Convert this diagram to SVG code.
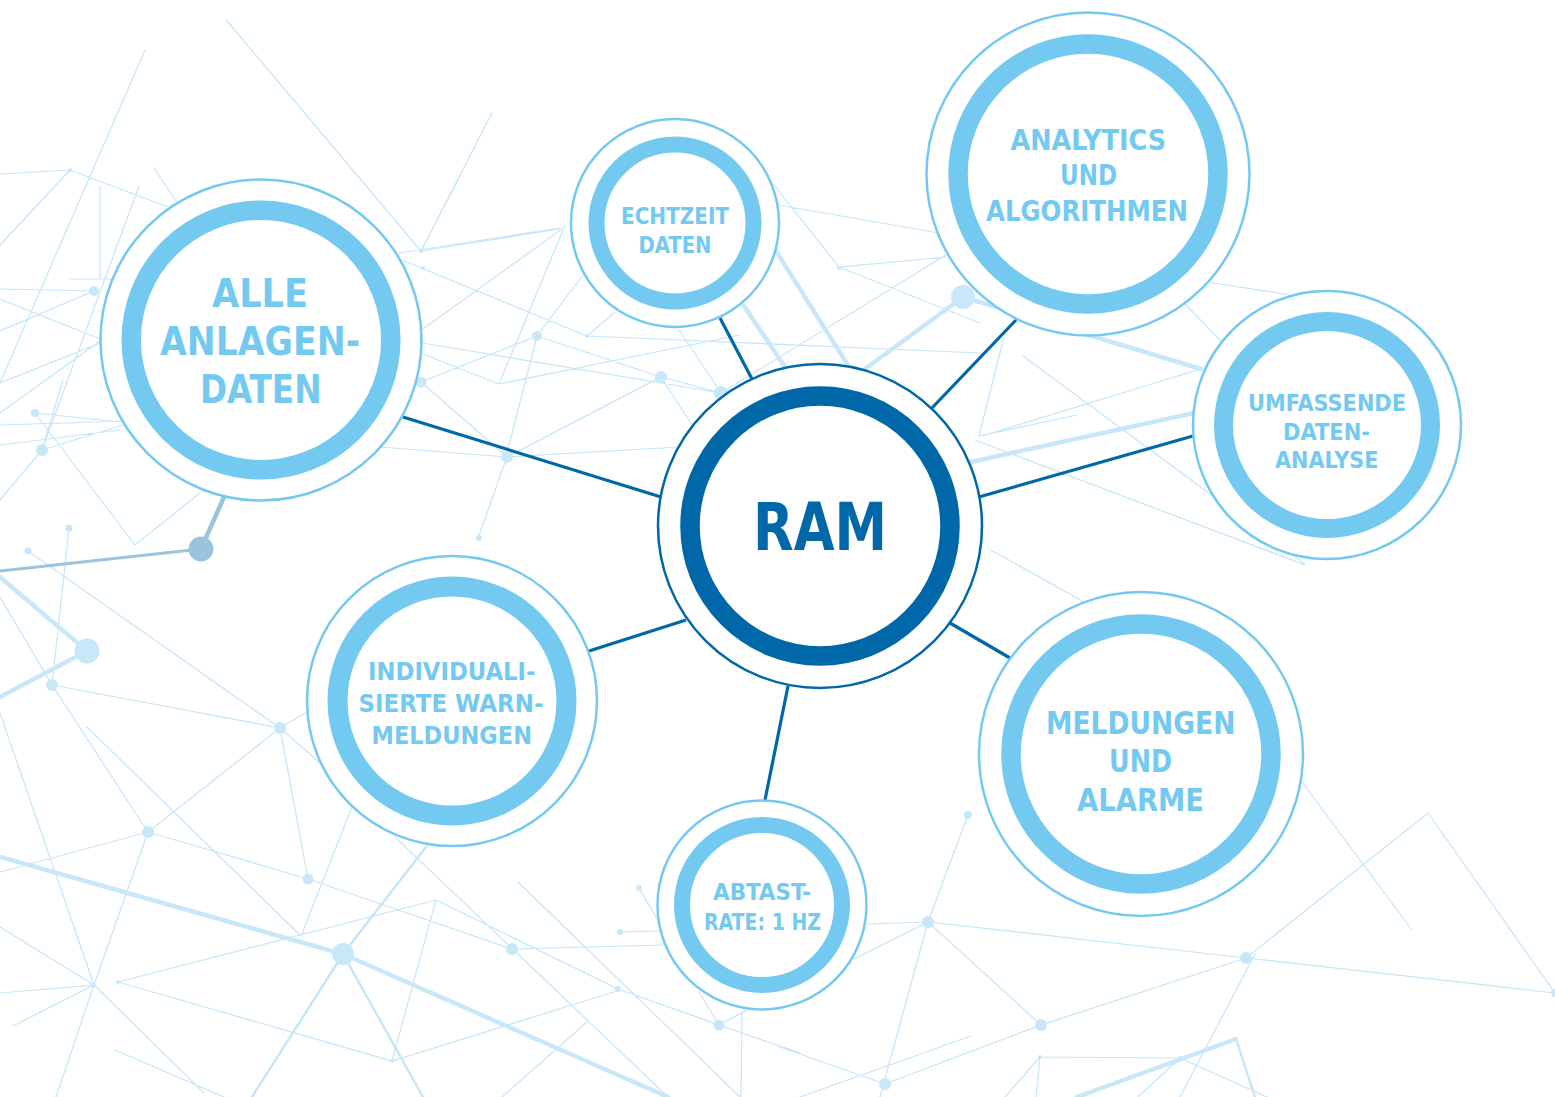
<svg xmlns="http://www.w3.org/2000/svg" width="1555" height="1097" viewBox="0 0 1555 1097">
<style>
.t{stroke:#c4e6f8;stroke-width:1.2;fill:none;stroke-linecap:round}
.m{stroke:#c4e6f8;stroke-width:2.4;fill:none;stroke-linecap:round}
.k{stroke:#c8e8f9;stroke-width:4.5;fill:none;stroke-linecap:round}
.d{fill:#c8e8f9}
.outer{fill:#fff;stroke:#74c9f1;stroke-width:2.5}
.ring{fill:#fff;stroke:#74c9f1}
.conn{stroke:#0067a9;stroke-width:3.2;fill:none}
.lbl{font-family:"DejaVu Sans Condensed","DejaVu Sans","Liberation Sans",sans-serif;font-weight:bold;fill:#74c9f1}
</style>
<rect width="1555" height="1097" fill="#fff"/>
<g id="background">
<path class="t" d="M227,21L421,251M492,113L421,251L559,229M145,50L0,383M0,174L70,170L168,207M70,170L0,245M154,168L176,201M139,186L42,450M100,186L100,279M69,279L111,279M0,289L94,291L0,331M0,299L100,339M0,383L100,343M0,413L100,341M0,425L126,421M402,260L587,336M423,329L566,226M422,343L721,393M423,354L499,384L740,335M563,230L499,384M537,336L421,382M537,336L661,377M537,336L583,275M537,336L506,457M421,382L507,457L478,538M380,447L507,457L679,447M507,457L661,377L721,393M661,377L694,428M721,393L946,255M721,393L679,330M587,336L980,353M587,336L615,312M399,253L560,228M421,251L458,180M770,180L839,267L946,257M839,267L980,323M778,205L939,233M1004,337L979,436M1023,356L1305,564M1185,304L1220,340M1207,282L1290,295M979,436L1077,415M982,436L1207,367M975,440L1305,565M991,550L1084,602M35,413L120,422M35,413L135,545L200,493M42,450L0,500M42,450L63,380M0,445L120,430M42,450L123,425M69,528L52,685M28,551L280,728M52,685L280,728M52,685L148,832M0,597L52,685M280,728L307,712M280,728L148,832M280,728L308,879M280,728L320,763M87,727L301,936M0,713L94,985M0,872L148,832L308,879L512,949M148,832L94,985L56,1097M0,927L94,985L0,993M94,985L13,1026M94,985L204,1093M301,936L352,807M118,982L436,900L392,1061M436,900L620,990M118,982L392,1061L620,990M115,1050L224,1097M395,837L668,1097M512,949L663,945M620,932L660,931M639,888L658,920M518,882L740,1097M618,989L719,1025L800,1053M719,1025L699,992M719,1025L747,1010M742,1013L741,1097M587,1022L502,1097M866,924L928,922L854,959M928,922L968,815M928,922L1246,958L1555,993M928,922L1041,1025L1246,958M1041,1025L885,1084M928,922L880,1097M780,1047L885,1084M800,1097L971,1036M1246,958L1428,813L1555,993M1302,782L1412,930M1255,954L1180,1097M1040,1057L1180,1058M1040,1057L1005,1097M1040,1057L1036,1097M1180,1058L1267,1097M1180,1058L1138,1097"/>
<path class="m" d="M343,954L423,1097M343,954L252,1097M343,954L426,847M1236,1039L1255,1097"/>
<path class="k" d="M776,251L849,367M744,306L785,367M963,297L865,369M963,297L1201,369M966,463L1194,413M0,577L87,651L0,697M0,857L343,954L668,1097M1236,1039L1077,1097"/>
<g>
<circle class="d" cx="94" cy="291" r="5"/><circle class="d" cx="35" cy="413" r="4"/><circle class="d" cx="42" cy="450" r="6"/><circle class="d" cx="69" cy="528" r="3.5"/><circle class="d" cx="28" cy="551" r="3.5"/><circle class="d" cx="87" cy="651" r="12.5"/><circle class="d" cx="52" cy="685" r="6"/><circle class="d" cx="280" cy="728" r="6"/><circle class="d" cx="148" cy="832" r="6"/><circle class="d" cx="308" cy="879" r="5.5"/><circle class="d" cx="343" cy="954" r="11"/><circle class="d" cx="512" cy="949" r="6"/><circle class="d" cx="620" cy="932" r="3"/><circle class="d" cx="639" cy="888" r="3"/><circle class="d" cx="618" cy="989" r="3"/><circle class="d" cx="719" cy="1025" r="5.5"/><circle class="d" cx="928" cy="922" r="6"/><circle class="d" cx="968" cy="815" r="4"/><circle class="d" cx="1246" cy="958" r="6"/><circle class="d" cx="1041" cy="1025" r="6"/><circle class="d" cx="885" cy="1084" r="6"/><circle class="d" cx="537" cy="336" r="5"/><circle class="d" cx="421" cy="382" r="5.5"/><circle class="d" cx="507" cy="457" r="6"/><circle class="d" cx="661" cy="377" r="6"/><circle class="d" cx="721" cy="393" r="7"/><circle class="d" cx="479" cy="538" r="3"/><circle class="d" cx="963" cy="297" r="12"/><circle class="d" cx="839" cy="268" r="2"/><circle class="d" cx="587" cy="336" r="2"/><circle class="d" cx="421" cy="251" r="2"/><circle class="d" cx="70" cy="170" r="2"/><circle class="d" cx="423" cy="268" r="2"/><circle class="d" cx="94" cy="985" r="2"/><circle class="d" cx="118" cy="982" r="2"/><circle class="d" cx="392" cy="1061" r="2"/><circle class="d" cx="1040" cy="1057" r="2"/><circle class="d" cx="1180" cy="1058" r="2"/><circle class="d" cx="1555" cy="993" r="4"/>
</g>
<path d="M0,571L201,549" stroke="#9cc3dc" stroke-width="3" fill="none"/>
<path d="M201,549L224,497" stroke="#9cc3dc" stroke-width="4.5" fill="none"/>
<circle cx="201" cy="549" r="12.5" fill="#9cc3dc"/>
</g>
<g id="connectors">
<line class="conn" x1="403" y1="417" x2="661" y2="497"/>
<line class="conn" x1="720" y1="318" x2="752" y2="379"/>
<line class="conn" x1="1016" y1="320" x2="931" y2="409"/>
<line class="conn" x1="1193" y1="436" x2="979" y2="497"/>
<line class="conn" x1="589" y1="651" x2="686" y2="620"/>
<line class="conn" x1="765" y1="800" x2="788" y2="686"/>
<line class="conn" x1="950" y1="623" x2="1010" y2="658"/>
</g>
<g id="node-alle">
<circle class="outer" cx="261" cy="340" r="160.5"/>
<circle class="ring" cx="261" cy="340" r="129.8" stroke-width="19.5"/>
<text class="lbl" font-size="39" x="212" y="307" textLength="96" lengthAdjust="spacingAndGlyphs">ALLE</text>
<text class="lbl" font-size="39" x="160" y="355" textLength="200" lengthAdjust="spacingAndGlyphs">ANLAGEN-</text>
<text class="lbl" font-size="39" x="200" y="402.5" textLength="121.5" lengthAdjust="spacingAndGlyphs">DATEN</text>
</g>
<g id="node-echtzeit">
<circle class="outer" cx="675" cy="223" r="104"/>
<circle class="ring" cx="675" cy="223" r="78.5" stroke-width="16"/>
<text class="lbl" font-size="23.5" x="621" y="224" textLength="108" lengthAdjust="spacingAndGlyphs">ECHTZEIT</text>
<text class="lbl" font-size="23.5" x="638.5" y="252.5" textLength="73" lengthAdjust="spacingAndGlyphs">DATEN</text>
</g>
<g id="node-analytics">
<circle class="outer" cx="1088" cy="174" r="161.5"/>
<circle class="ring" cx="1088" cy="174" r="130" stroke-width="19.5"/>
<text class="lbl" font-size="29" x="1010.5" y="150" textLength="155.5" lengthAdjust="spacingAndGlyphs">ANALYTICS</text>
<text class="lbl" font-size="29" x="1060" y="185" textLength="57" lengthAdjust="spacingAndGlyphs">UND</text>
<text class="lbl" font-size="29" x="986" y="221" textLength="202" lengthAdjust="spacingAndGlyphs">ALGORITHMEN</text>
</g>
<g id="node-umfassende">
<circle class="outer" cx="1327" cy="425" r="134"/>
<circle class="ring" cx="1327" cy="425" r="103.5" stroke-width="19"/>
<text class="lbl" font-size="23" x="1248" y="411" textLength="158" lengthAdjust="spacingAndGlyphs">UMFASSENDE</text>
<text class="lbl" font-size="23" x="1283" y="440" textLength="87" lengthAdjust="spacingAndGlyphs">DATEN-</text>
<text class="lbl" font-size="23" x="1275" y="468" textLength="103.5" lengthAdjust="spacingAndGlyphs">ANALYSE</text>
</g>
<g id="node-ram">
<circle cx="820" cy="526" r="162" fill="#fff" stroke="#0067a9" stroke-width="2.5"/>
<circle cx="820" cy="526" r="130" fill="#fff" stroke="#0067a9" stroke-width="19.5"/>
<text font-family="'DejaVu Sans Condensed','DejaVu Sans','Liberation Sans',sans-serif" font-weight="bold" fill="#0067a9" font-size="66" x="753" y="550" textLength="134" lengthAdjust="spacingAndGlyphs">RAM</text>
</g>
<g id="node-individuali">
<circle class="outer" cx="452" cy="701" r="145"/>
<circle class="ring" cx="452" cy="701" r="114.5" stroke-width="20"/>
<text class="lbl" font-size="25" x="368" y="680" textLength="167.5" lengthAdjust="spacingAndGlyphs">INDIVIDUALI-</text>
<text class="lbl" font-size="25" x="358.5" y="711.5" textLength="185" lengthAdjust="spacingAndGlyphs">SIERTE WARN-</text>
<text class="lbl" font-size="25" x="371.5" y="744" textLength="160.5" lengthAdjust="spacingAndGlyphs">MELDUNGEN</text>
</g>
<g id="node-abtast">
<circle class="outer" cx="762" cy="905" r="104.5"/>
<circle class="ring" cx="762" cy="905" r="80" stroke-width="16"/>
<text class="lbl" font-size="23.5" x="713" y="900" textLength="98" lengthAdjust="spacingAndGlyphs">ABTAST-</text>
<text class="lbl" font-size="23.5" x="704" y="929.5" textLength="117" lengthAdjust="spacingAndGlyphs">RATE: 1 HZ</text>
</g>
<g id="node-meldungen">
<circle class="outer" cx="1141" cy="754" r="162"/>
<circle class="ring" cx="1141" cy="754" r="130" stroke-width="19.5"/>
<text class="lbl" font-size="31.5" x="1046" y="734" textLength="189.5" lengthAdjust="spacingAndGlyphs">MELDUNGEN</text>
<text class="lbl" font-size="31.5" x="1109" y="772" textLength="63" lengthAdjust="spacingAndGlyphs">UND</text>
<text class="lbl" font-size="31.5" x="1077" y="811" textLength="127" lengthAdjust="spacingAndGlyphs">ALARME</text>
</g>
</svg>
